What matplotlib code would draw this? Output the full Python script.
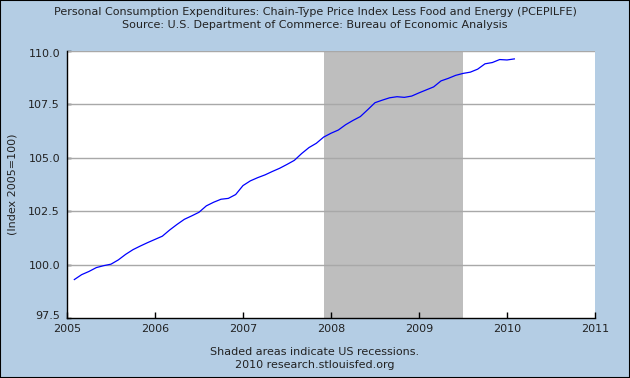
import numpy as np
import matplotlib.pyplot as plt
import matplotlib.transforms as mtransforms
from matplotlib.patches import Rectangle

# -------------------------------------------------------------------
# DATOS (PCEPILFE, indice 2005=100, mensual feb 2005 - feb 2010)
# -------------------------------------------------------------------
start_year = 2005
start_month = 2
pce_core = [
    99.30, 99.53, 99.68, 99.86, 99.95, 100.02, 100.22, 100.48, 100.70, 100.87, 101.03, 101.18,
    101.33, 101.62, 101.88, 102.12, 102.28, 102.45, 102.75, 102.92, 103.06, 103.10, 103.28, 103.70,
    103.92, 104.07, 104.20, 104.36, 104.51, 104.69, 104.88, 105.20, 105.48, 105.68, 105.97, 106.15,
    106.30, 106.55, 106.75, 106.93, 107.25, 107.58, 107.70, 107.81, 107.86, 107.83, 107.89, 108.04,
    108.18, 108.32, 108.60, 108.72, 108.86, 108.95, 109.01, 109.15, 109.40, 109.46, 109.60, 109.58,
    109.63,
]
recession_start = 2007 + 11 / 12
recession_end = 2009.5

year_ticks = [2005, 2006, 2007, 2008, 2009, 2010, 2011]
value_ticks = [97.5, 100.0, 102.5, 105.0, 107.5, 110.0]

title_lines = [
    "Personal Consumption Expenditures: Chain-Type Price Index Less Food and Energy (PCEPILFE)",
    "Source: U.S. Department of Commerce: Bureau of Economic Analysis",
]
footer_lines = ["Shaded areas indicate US recessions.", "2010 research.stlouisfed.org"]

BG = "#B4CDE4"
GRID = "#A8A8A8"
SHADE = "#BEBEBE"
TXT = "#222222"
FS = 8

x = start_year + (start_month - 1 + np.arange(len(pce_core))) / 12

fig = plt.figure(figsize=(6.3, 3.78), dpi=100, facecolor=BG)
ax = fig.add_axes([67 / 630, 1 - 318 / 378, 528 / 630, 267 / 378])
ax.set_facecolor("white")

ax.axvspan(recession_start, recession_end, color=SHADE, lw=0, zorder=1)
for v in value_ticks[1:]:
    ax.axhline(v, color=GRID, lw=1, zorder=2)
ax.plot(x, pce_core, color="#0000FF", lw=0.9, zorder=3)

ax.set_xlim(2005, 2011)
ax.set_ylim(97.5, 110.0)
ax.set_xticks(year_ticks)
ax.set_yticks(value_ticks)
ax.set_yticklabels([f"{v:.1f}" for v in value_ticks])
ax.tick_params(axis="x", direction="in", length=4, width=1, color="black",
               labelsize=FS, pad=4.5, labelcolor=TXT)
ax.tick_params(axis="y", direction="in", length=3, width=1, color="black",
               labelsize=FS, pad=5, labelcolor=TXT)

# 97.5 un poco hacia arriba, 110.0 un poco hacia abajo, como en el original
ylabels = ax.get_yticklabels()
ylabels[0].set_transform(ylabels[0].get_transform()
                         + mtransforms.ScaledTranslation(0, 2.5 / 72, fig.dpi_scale_trans))
ylabels[-1].set_transform(ylabels[-1].get_transform()
                          + mtransforms.ScaledTranslation(0, -1.5 / 72, fig.dpi_scale_trans))

for side in ["top", "right"]:
    ax.spines[side].set_visible(False)
for side in ["left", "bottom"]:
    ax.spines[side].set_color("black")
    ax.spines[side].set_linewidth(1)

ax.set_ylabel("(Index 2005=100)", fontsize=FS, color=TXT, labelpad=8)

fig.text(0.5, 1 - 12 / 378, title_lines[0], ha="center", va="center", fontsize=FS, color=TXT)
fig.text(0.5, 1 - 25 / 378, title_lines[1], ha="center", va="center", fontsize=FS, color=TXT)
fig.text(0.5, 1 - 352 / 378, footer_lines[0], ha="center", va="center", fontsize=FS, color=TXT)
fig.text(0.5, 1 - 365 / 378, footer_lines[1], ha="center", va="center", fontsize=FS, color=TXT)

fig.patches.append(Rectangle((0, 0), 1, 1, transform=fig.transFigure, fill=False,
                             edgecolor="black", lw=1.5))

fig.savefig("out.png", dpi=100, facecolor=BG)
